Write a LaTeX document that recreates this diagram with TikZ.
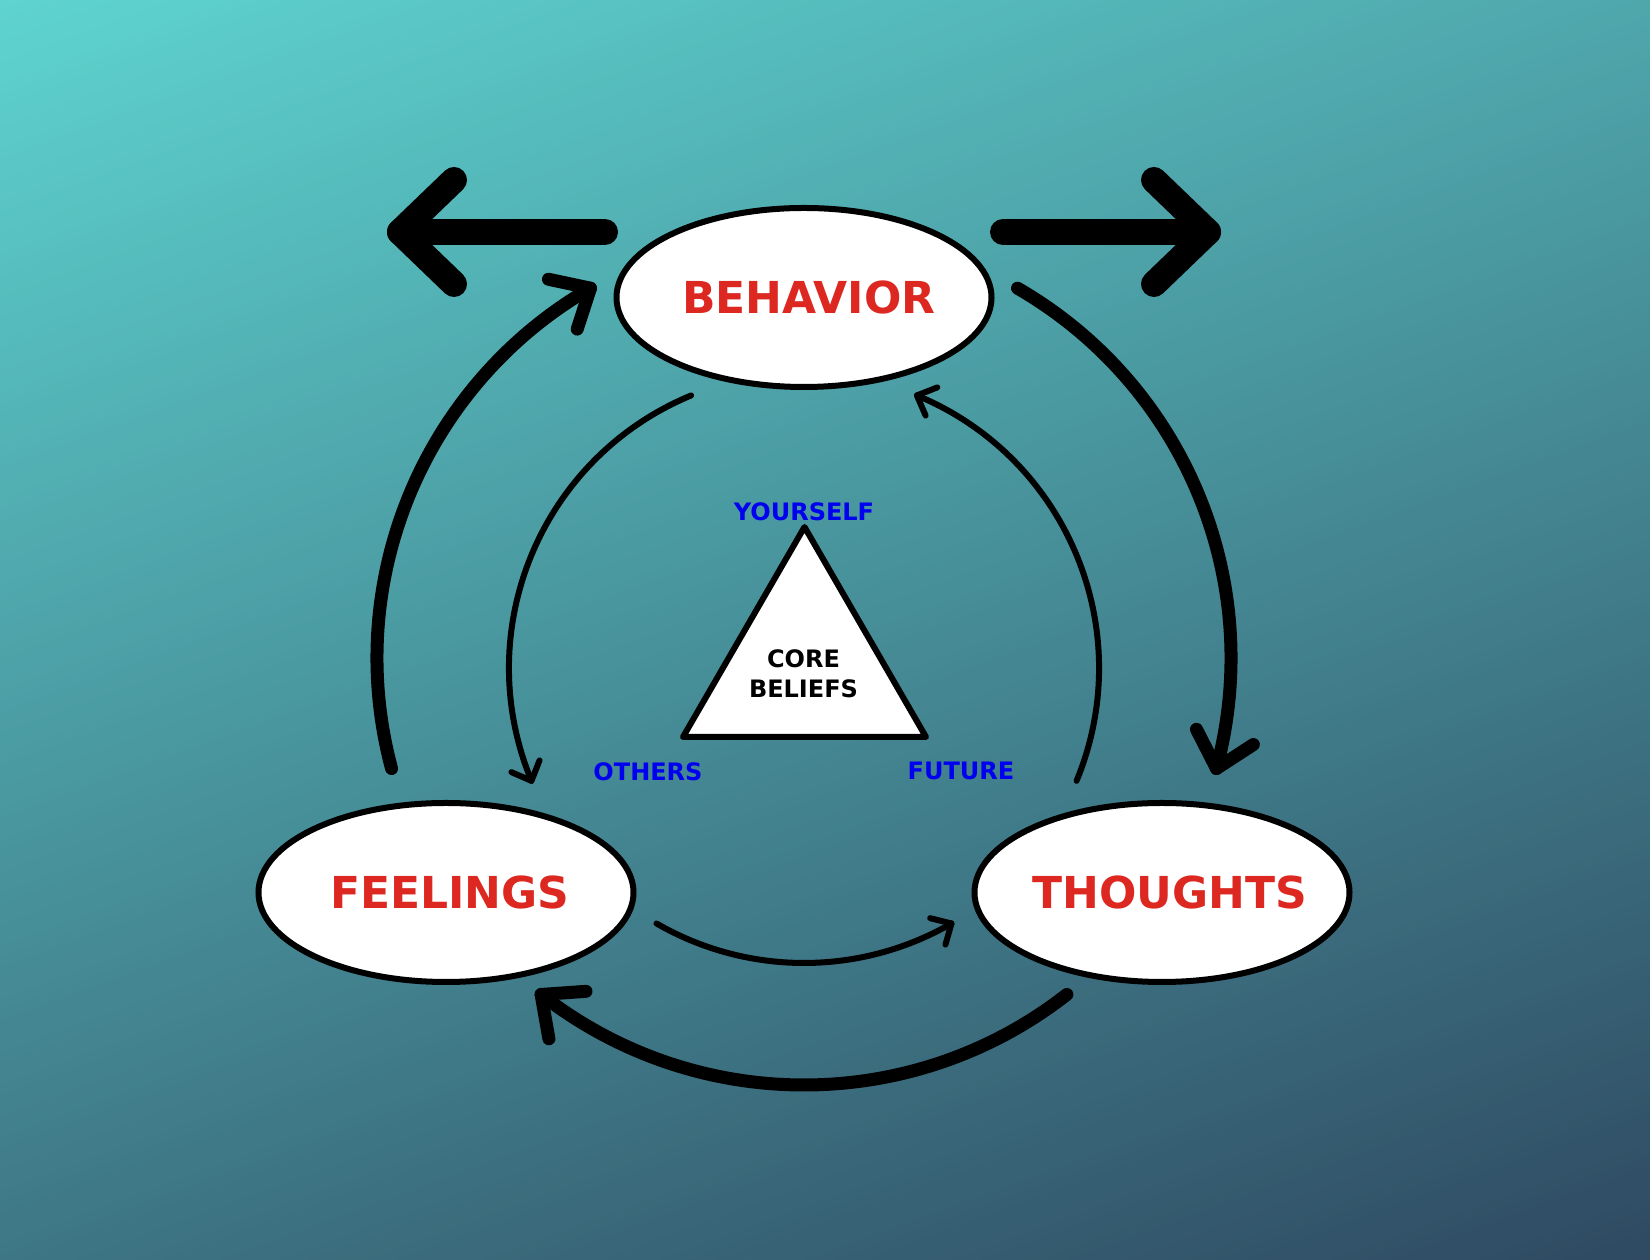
\documentclass[tikz,border=0pt]{standalone}
\usepackage{fontspec}
\setmainfont{DejaVu Sans}
\usetikzlibrary{calc,shapes.geometric}
\definecolor{bgA}{RGB}{94,211,207}
\definecolor{bgB}{RGB}{47,74,98}
\definecolor{lblred}{RGB}{220,40,32}
\definecolor{lblblue}{RGB}{0,0,240}
% #1 centre, #2 radius, #3 start angle, #4 end angle, #5 back angle, #6 half angle, #7 arm length, #8 style
\newcommand{\arcarrow}[8]{%
  \draw[#8] ($(#1)+(#3:#2)$) arc[start angle=#3, end angle=#4, radius=#2];
  \draw[#8] ($(#1)+(#4:#2)+(#5+#6:#7)$) -- ($(#1)+(#4:#2)$) -- ($(#1)+(#4:#2)+(#5-#6:#7)$);
}
\tikzset{
  bigline/.style={line width=13pt, line cap=round, line join=round},
  thinline/.style={line width=6pt, line cap=round, line join=round},
  toparrow/.style={line width=26pt, line cap=round, line join=round},
  ell/.style={ellipse, draw, line width=6pt, fill=white, minimum width=375pt,
    minimum height=179pt, inner xsep=-40pt, inner ysep=0pt, text=lblred,
    font=\fontsize{44}{50}\selectfont\bfseries},
  cornerlbl/.style={text=lblblue, inner sep=0pt, font=\fontsize{24}{28}\selectfont\bfseries},
  corelbl/.style={text=black, inner sep=0pt, align=center, font=\fontsize{24}{29.5}\selectfont\bfseries}
}
\begin{document}
\begin{tikzpicture}[x=1pt,y=1pt]
\useasboundingbox (0,0) rectangle (1650,1260);
% background gradient
\begin{scope}
  \clip (0,0) rectangle (1650,1260);
  \begin{scope}[shift={(825,630)}, rotate=20]
    \foreach \i in {0,...,174} {
      \pgfmathsetmacro{\p}{\i*0.574713}
      \fill[bgB!\p!bgA] (-1200,{874-10*\i+0.6}) rectangle (1200,{874-10*(\i+1)});
    }
  \end{scope}
\end{scope}
% centres of the circular connectors
\coordinate (O) at (804,602);
\coordinate (I) at (804,592);
% ellipses
\node[ell] (beh) at (804,962.5) {\hspace*{10pt}BEHAVIOR};
\node[ell] (feel) at (446,367.5) {\hspace*{8pt}FEELINGS};
\node[ell] (thou) at (1162,367.5) {\hspace*{16pt}THOUGHTS};
% top arrows
\coordinate (lS) at (605,1028); \coordinate (lT) at (400,1028);
\coordinate (lA) at (454,1080); \coordinate (lB) at (454,976);
\coordinate (rS) at (1003,1028); \coordinate (rT) at (1208,1028);
\coordinate (rA) at (1154,1080); \coordinate (rB) at (1154,976);
\draw[toparrow] (lS) -- (lT);
\draw[toparrow] (lA) -- (lT) -- (lB);
\draw[toparrow] (rS) -- (rT);
\draw[toparrow] (rA) -- (rT) -- (rB);
% outer cycle
\arcarrow{O}{427}{195}{120}{210}{42}{43}{bigline}
\arcarrow{O}{427}{60}{-15}{75}{42}{44}{bigline}
\arcarrow{O}{427}{-52}{-128}{-38}{42}{45}{bigline}
% inner cycle
\arcarrow{I}{295}{112.5}{202.5}{112.5}{44}{22}{thinline}
\arcarrow{I}{295}{-22.5}{67.5}{-22.5}{44}{22}{thinline}
\arcarrow{I}{295}{240}{300}{210}{44}{22}{thinline}
% core beliefs triangle
\coordinate (ty) at (804.5,733);
\coordinate (to) at (683,523);
\coordinate (tf) at (926,523);
\draw[thinline, fill=white] (ty) -- (to) -- (tf) -- cycle;
\node[corelbl] (core) at (803.5,586) {CORE\\BELIEFS};
\node[cornerlbl] (yo) at (804,748.5) {YOURSELF};
\node[cornerlbl] (ot) at (648,488) {OTHERS};
\node[cornerlbl] (fu) at (961,489) {FUTURE};
\end{tikzpicture}
\end{document}
